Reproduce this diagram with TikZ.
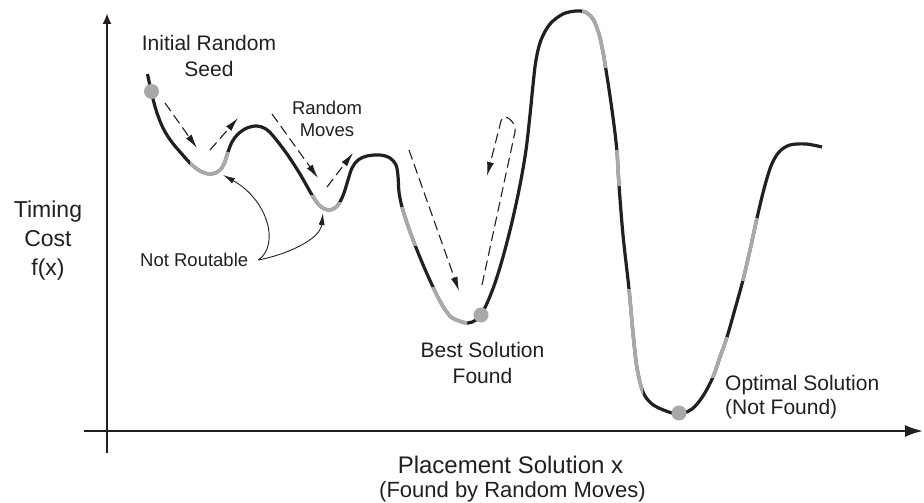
\documentclass[tikz,border=0pt]{standalone}
\usepackage{fontspec}
\setmainfont{Liberation Sans}
\usetikzlibrary{arrows.meta}
\definecolor{ink}{HTML}{231F20}
\definecolor{cgray}{HTML}{A9A9A9}
\newcommand\fsz[2]{\fontsize{#1pt}{#2pt}\selectfont}
\newcommand\costcurve[1]{\draw[#1] plot[smooth,tension=0.55] coordinates {
(147.5,74) (150,86) (153,99) (157,113) (163,128) (171,141) (181,153) (192,165)
(202,172) (211,174) (219,171) (224,164) (228,152) (232,142) (238,134) (247,128)
(257,126) (266,129) (274,137) (287,154) (300,174) (312,195) (320,206) (328,210)
(335,208) (340,202) (344,193) (348,180) (352,168) (358,160) (367,156) (380,155)
(390,158) (396,165) (398,176) (399,192) (402,207) (408,226) (415,245) (424,267)
(433,287) (441,303) (450,316) (459,321) (468,323) (476,320) (482,313) (488,301)
(495,283) (503,257) (512,222) (520,185) (526,150) (530,115) (533,85) (536,60)
(541,40) (550,24) (563,14) (576,11) (585,12) (593,19) (599,34) (603,52)
(606,70) (610,96) (614,125) (617,152) (619,185) (623,235) (629,289) (633,333)
(637,368) (643,392) (652,404) (666,411) (679,414) (692,409) (703,396) (713,377)
(720,357) (727,337) (735,309) (743,280) (750,250) (757,218) (764,189) (771,166)
(779,152) (790,145) (806,144) (822,147)};}
\begin{document}
\begin{tikzpicture}[x=1pt,y=-1pt,line join=round]
\tikzset{
 axisline/.style={line width=2.3pt, draw=ink},
 curveblack/.style={line width=3.2pt, draw=ink},
 curvegray/.style={line width=3.6pt, draw=cgray},
 seeddot/.style={circle, fill=cgray, minimum size=15pt, inner sep=0pt},
 movearrow/.style={line width=1.1pt, draw=ink, dash pattern=on 10pt off 5pt, -{Latex[length=14pt,width=7pt]}},
 notearrow/.style={line width=0.9pt, draw=ink, -{Latex[length=12pt,width=6pt]}},
 lbl/.style={text=ink, inner sep=0pt, align=center},
}
\useasboundingbox (0,0) rectangle (924,503);
\fill[white] (0,0) rectangle (924,503);

% axes
\coordinate (ytop) at (107,13);
\coordinate (ybot) at (107,453);
\coordinate (xleft) at (84,431);
\coordinate (xright) at (923,431);
\draw[axisline, -{Latex[length=11pt,width=9pt]}] (ybot) -- (ytop);
\draw[axisline, -{Latex[length=18pt,width=12pt]}] (xleft) -- (xright);

% cost curve
\costcurve{curveblack}
\begin{scope}\clip (190,152) rectangle (245,190); \costcurve{curvegray}\end{scope}
\begin{scope}\clip (300,195) -- (326,195) -- (326,202) -- (350,202) -- (350,225) -- (300,225) -- cycle; \costcurve{curvegray}\end{scope}
\begin{scope}\clip (390,207) rectangle (430,245); \costcurve{curvegray}\end{scope}
\begin{scope}\clip (420,287) rectangle (467,340); \costcurve{curvegray}\end{scope}
\begin{scope}\clip (582,0) rectangle (625,68); \costcurve{curvegray}\end{scope}
\begin{scope}\clip (600,150) rectangle (640,185); \costcurve{curvegray}\end{scope}
\begin{scope}\clip (610,289) rectangle (643,430); \costcurve{curvegray}\end{scope}
\begin{scope}\clip (690,337) rectangle (750,377); \costcurve{curvegray}\end{scope}
\begin{scope}\clip (730,218) rectangle (780,280); \costcurve{curvegray}\end{scope}

% dots
\node[seeddot] (seed) at (151.5,91.5) {};
\node[seeddot] (best) at (481,315) {};
\node[seeddot] (opt) at (679,413) {};

% random move arrows
\coordinate (m1a) at (165,103); \coordinate (m1b) at (197,148);
\coordinate (m2a) at (210,150); \coordinate (m2b) at (238,118);
\coordinate (m3a) at (272,114); \coordinate (m3b) at (318,178);
\coordinate (m4a) at (327,187); \coordinate (m4b) at (353,153);
\coordinate (m5a) at (409,150); \coordinate (m5b) at (459,291);
\coordinate (m6a) at (482,285); \coordinate (m6t) at (515,132);
\coordinate (m6u) at (501,121); \coordinate (m6b) at (487,176);
\draw[movearrow] (m1a) -- (m1b);
\draw[movearrow] (m2a) -- (m2b);
\draw[movearrow] (m3a) -- (m3b);
\draw[movearrow] (m4a) -- (m4b);
\draw[movearrow] (m5a) -- (m5b);
\draw[movearrow] (m6a) -- (m6t) .. controls (517.1,122.2) and (503.5,111.3) .. (m6u) -- (m6b);

% labels
\node[lbl, font=\fsz{23}{29}] (ylab) at (48,241) {Timing\\Cost\\f(x)};
\node[lbl, font=\fsz{21}{26}] (seedlab) at (209,56) {Initial Random\\Seed};
\node[lbl, font=\fsz{18.5}{22}] (movelab) at (327,119) {Random\\Moves};
\node[lbl, font=\fsz{18.5}{22}, anchor=west] (nr) at (140,260) {Not Routable};
\node[lbl, font=\fsz{21}{26}] (bestlab) at (482.5,363) {Best Solution\\Found};
\node[lbl, font=\fsz{21}{24}, align=left, anchor=west] (optlab) at (725,397) {Optimal Solution\\(Not Found)};
\node[lbl, font=\fsz{24}{28}, anchor=base] (xlab) at (510.5,473) {Placement Solution x};
\node[lbl, font=\fsz{22}{26}, anchor=base] (xsub) at (512.5,497) {(Found by Random Moves)};

% not routable arrows
\coordinate (nrs) at ([xshift=10pt]nr.east);
\coordinate (v1) at (223,175);
\coordinate (v2) at (323,213);
\draw[notearrow] (nrs) .. controls (280,245) and (268,200) .. (v1);
\draw[notearrow] (nrs) .. controls (285,255) and (320,240) .. (v2);
\end{tikzpicture}
\end{document}
